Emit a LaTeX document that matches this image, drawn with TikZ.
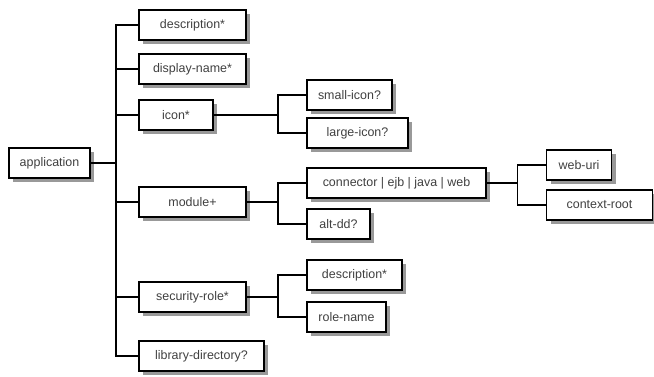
\documentclass[tikz,border=0pt]{standalone}
\usepackage{fontspec}
\setmainfont{Liberation Sans}
\usetikzlibrary{shadows}

\begin{document}
\begin{tikzpicture}
      [x=1bp,y=-1bp,every node/.style={font=\fontsize{12.5}{14}\selectfont,text=black!75},
       elem/.style={draw,line width=1.8bp,fill=white,minimum height=30bp,inner sep=0pt,
         drop shadow={shadow xshift=4bp,shadow yshift=-4bp,fill=black!40,opacity=1}},
       link/.style={line width=1.4bp,black}]
	\useasboundingbox (0,0) rectangle (654,376);
	\node (app)    [elem,minimum width=81bp]  at (49.5,163)  {application};
	\node (desc)   [elem,minimum width=107bp] at (192.5,25)  {description*};
	\node (dname)  [elem,minimum width=107bp] at (192.5,69)  {display-name*};
	\node (icon)   [elem,minimum width=74bp]  at (176,115)   {icon*};
	\node (module) [elem,minimum width=107bp] at (192.5,202) {module+};
	\node (secrole)[elem,minimum width=107bp] at (192.5,297) {security-role*};
	\node (libdir) [elem,minimum width=125bp] at (201.5,356) {library-directory?};
	\node (small)  [elem,minimum width=85bp]  at (349.5,95)  {small-icon?};
	\node (large)  [elem,minimum width=101bp] at (357.5,133) {large-icon?};
	\node (conn)   [elem,minimum width=179bp] at (396.5,183) {connector | ejb | java | web};
	\node (altdd)  [elem,minimum width=63bp]  at (338.5,224) {alt-dd?};
	\node (sdesc)  [elem,minimum width=95bp]  at (354.5,275) {description*};
	\node (rname)  [elem,minimum width=79bp]  at (346.5,317) {role-name};
	\node (weburi) [elem,minimum width=65bp]  at (579,165)   {web-uri};
	\node (ctxroot)[elem,minimum width=106bp] at (599.5,205) {context-root};

	\foreach \from/\to in {app/desc,app/dname,app/icon,app/module,app/secrole,app/libdir}
	  \draw[link] (\to.west) -- ++(-22,0) |- (\from.east);
	\foreach \from/\to in {icon/small,icon/large,module/conn,module/altdd,secrole/sdesc,secrole/rname,conn/weburi,conn/ctxroot}
	  \draw[link] (\to.west) -- ++(-28,0) |- (\from.east);
      \end{tikzpicture}
\end{document}
